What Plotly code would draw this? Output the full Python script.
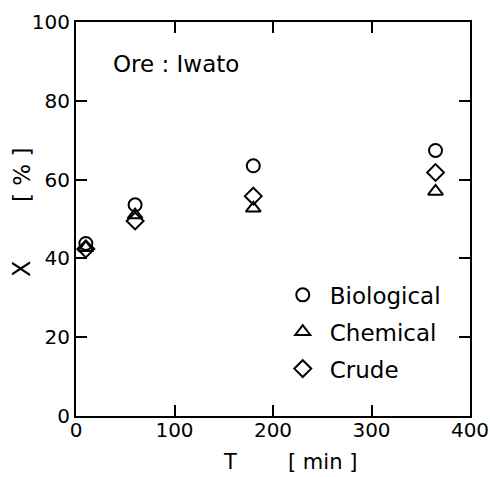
import plotly.graph_objects as go

time_min = [10, 60, 180, 365]
biological = [43.8, 53.6, 63.5, 67.4]
chemical = [42.7, 51.0, 52.7, 57.0]
crude = [42.4, 49.5, 55.8, 61.8]

series_names = ["Biological", "Chemical", "Crude"]
symbols = ["circle-open", "triangle-up-open", "diamond-open"]
x_ticks = [0, 100, 200, 300, 400]
y_ticks = [0, 20, 40, 60, 80, 100]

FONT = "DejaVu Sans"
W, H = 490, 477
l, r, t, b = 76, 20, 22, 61
pw, ph = W - l - r, H - t - b

fig = go.Figure()
for name, vals, sym in zip(series_names, [biological, chemical, crude], symbols):
    fig.add_trace(go.Scatter(
        x=time_min, y=vals, mode="markers", name=name, legendgroup=name,
        marker=dict(symbol=sym, size=13, color="black", line=dict(width=2, color="black")),
    ))

axis_common = dict(
    showline=True, linecolor="black", linewidth=2, mirror="ticks",
    ticks="inside", ticklen=11, tickwidth=2, tickcolor="black",
    showgrid=False, zeroline=False, automargin=False,
    tickfont=dict(family=FONT, size=20, color="black"),
)
fig.update_xaxes(range=[0, 400], tickvals=x_ticks, ticklabelstandoff=-5, **axis_common)
fig.update_yaxes(range=[0, 100], tickvals=y_ticks, **axis_common)


def px_ann(text, x, y, size, angle=0, anchor="center"):
    return dict(text=text, x=(x - l) / pw, y=1 - (y - t) / ph, xref="paper", yref="paper",
                showarrow=False, textangle=angle, xanchor=anchor, yanchor="middle",
                borderpad=0, font=dict(family=FONT, size=size, color="black"))


fig.update_layout(
    width=W, height=H, autosize=False,
    margin=dict(l=l, r=r, t=t, b=b, autoexpand=False),
    plot_bgcolor="white", paper_bgcolor="white",
    font=dict(family=FONT, color="black"),
    showlegend=True,
    legend=dict(
        x=0.507, y=0.362, xanchor="left", yanchor="top",
        font=dict(family=FONT, size=23, color="black"),
        bgcolor="rgba(0,0,0,0)", tracegroupgap=4, itemwidth=44,
    ),
    annotations=[
        px_ann("Ore : Iwato", 112, 64, 23, anchor="left"),
        px_ann("T", 230, 462, 21),
        px_ann("[ min ]", 322, 462, 21),
        px_ann("X", 22, 269, 24, angle=-90),
        px_ann("[ % ]", 22, 175, 23, angle=-90),
    ],
)

fig.write_html(
    "out.html",
    config={"displayModeBar": False, "responsive": False},
    post_script="document.body.style.margin='0';document.body.style.overflow='hidden';",
)
